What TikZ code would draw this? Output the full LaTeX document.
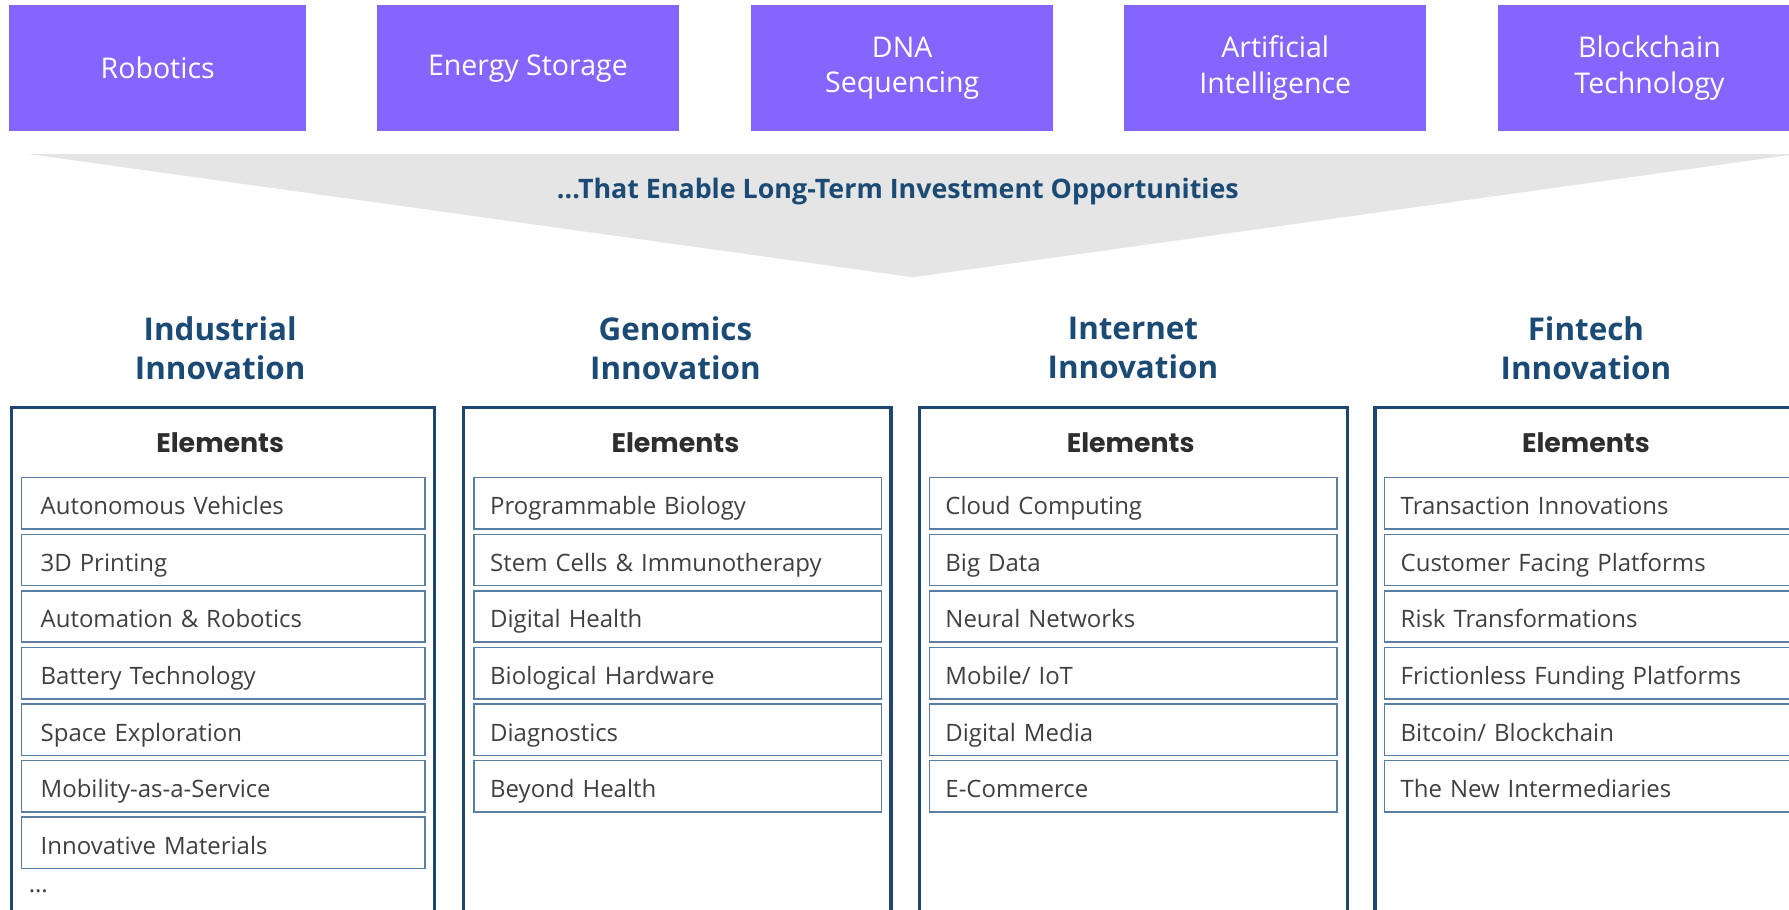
\documentclass[tikz,border=0pt]{standalone}
\usepackage{fontspec}
\setmainfont{Open Sans}
\newfontfamily\elemfont{Poppins}
\definecolor{purp}{HTML}{8466FF}
\definecolor{funnel}{HTML}{E5E5E5}
\definecolor{navy}{HTML}{1B4A75}
\definecolor{frame}{HTML}{1F4670}
\definecolor{itemline}{HTML}{5A7DA5}
\definecolor{itemtext}{HTML}{404040}
\definecolor{elemtext}{HTML}{2E2E2E}
\begin{document}
\begin{tikzpicture}[x=1pt,y=-1pt,
  topbox/.style={fill=purp, draw=none, minimum width=265pt, minimum height=111pt,
    text=white, font=\fontsize{25}{31}\selectfont, align=center, anchor=north west, inner sep=0pt},
  heading/.style={text=navy, font=\bfseries\fontsize{27.5}{34}\selectfont, align=center},
  colframe/.style={draw=frame, line width=3pt, minimum width=375pt, minimum height=480pt,
    anchor=north west, inner sep=0pt},
  elemhead/.style={text=elemtext, font=\elemfont\bfseries\fontsize{23.5}{28}\selectfont},
  itembox/.style={draw=itemline, line width=1.3pt, anchor=north west, minimum height=45pt,
    text width=329pt, inner xsep=14pt, inner ysep=0pt, align=left, text=itemtext,
    text height=20pt, text depth=0pt, font=\fontsize{21}{25}\selectfont},
  funneltext/.style={text=navy, font=\bfseries\fontsize{23.5}{28}\selectfont}]
\useasboundingbox (0,0) rectangle (1568,797);
\clip (0,0) rectangle (1568,797);

% top technology boxes
\node[topbox, minimum width=260pt] (robotics) at (8,4) {Robotics};
\node[topbox] (energy) at (330,4) {Energy Storage};
\node[topbox] (dna) at (658,4) {DNA\\Sequencing};
\node[topbox] (ai) at (985,4) {Artificial\\Intelligence};
\node[topbox] (blockchain) at (1313,4) {Blockchain\\Technology};

% funnel
\coordinate (fl) at (25,135);
\coordinate (fr) at (1575,135);
\coordinate (ft) at (800,243);
\fill[funnel] (fl) -- (fr) -- (ft) -- cycle;
\node[funneltext] (enable) at (787,168) {...That Enable Long-Term Investment Opportunities};

% column headings
\node[heading] (hind) at (193,305) {Industrial\\Innovation};
\node[heading] (hgen) at (592,305) {Genomics\\Innovation};
\node[heading] (hint) at (993,305) {Internet\\Innovation};
\node[heading] (hfin) at (1390,305) {Fintech\\Innovation};

% column frames
\node[colframe, minimum width=371pt] (cind) at (8.5,355.5) {};
\node[colframe] (cgen) at (404.5,355.5) {};
\node[colframe] (cint) at (804.5,355.5) {};
\node[colframe] (cfin) at (1203.5,355.5) {};

\node[elemhead] (eind) at (193,388) {Elements};
\node[elemhead] (egen) at (592,388) {Elements};
\node[elemhead] (eint) at (991,388) {Elements};
\node[elemhead] (efin) at (1390,388) {Elements};

% items
\foreach \t [count=\i from 0] in {Autonomous Vehicles, 3D Printing, Automation \& Robotics,
  Battery Technology, Space Exploration, Mobility-as-a-Service, Innovative Materials}
  \node[itembox, inner xsep=17pt, text width=320pt] (ind-\i) at (18,418+49.6*\i) {\t};
\node[anchor=west, text=itemtext, font=\fontsize{21}{25}\selectfont, inner sep=0pt] (inddots) at (25,781) {...};

\foreach \t [count=\i from 0] in {Programmable Biology, Stem Cells \& Immunotherapy, Digital Health,
  Biological Hardware, Diagnostics, Beyond Health}
  \node[itembox] (gen-\i) at (415,418+49.6*\i) {\t};

\foreach \t [count=\i from 0] in {Cloud Computing, Big Data, Neural Networks,
  Mobile/ IoT, Digital Media, E-Commerce}
  \node[itembox] (int-\i) at (814,418+49.6*\i) {\t};

\foreach \t [count=\i from 0] in {Transaction Innovations, Customer Facing Platforms, Risk Transformations,
  Frictionless Funding Platforms, Bitcoin/ Blockchain, The New Intermediaries}
  \node[itembox] (fin-\i) at (1213,418+49.6*\i) {\t};
\end{tikzpicture}
\end{document}
